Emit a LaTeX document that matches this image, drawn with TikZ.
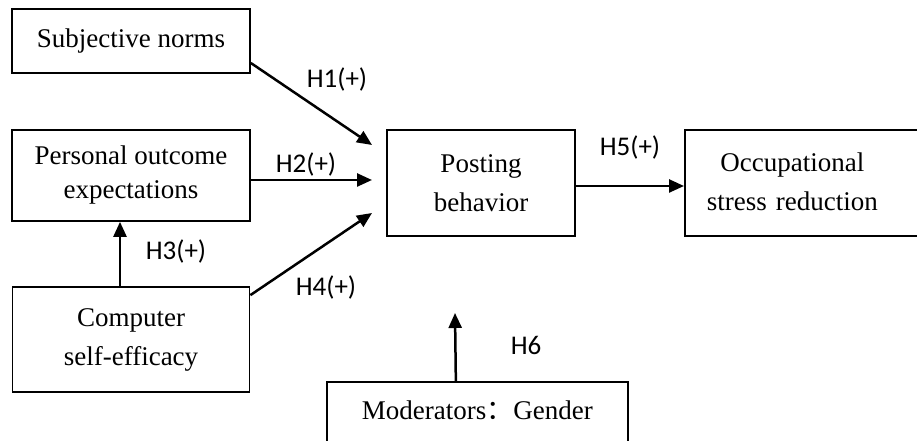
\documentclass[tikz,border=0pt]{standalone}
\usepackage{fontspec}
\setmainfont{Liberation Serif}
\newfontfamily\hfont{Carlito}
\newfontfamily\cjk{Noto Sans CJK SC}
\usetikzlibrary{arrows.meta}

\begin{document}
\begin{tikzpicture}[x=1pt,y=1pt,
  box/.style={draw,line width=1.7pt,align=center,font=\fontsize{27}{39}\selectfont},
  hyp/.style={-{Triangle[length=15pt,width=13pt]},line width=2.5pt},
  hlab/.style={font=\hfont\fontsize{27}{32}\selectfont}]
\useasboundingbox (0,0) rectangle (917,441);

% Boxes
\node[box,minimum width=238pt,minimum height=64pt] (norms) at (131,400) {Subjective norms};
\node[box,minimum width=238pt,minimum height=91pt,font=\fontsize{27}{34}\selectfont] (outcome) at (131,265.5) {Personal outcome\\expectations};
\node[box,minimum width=237pt,minimum height=105pt] (efficacy) at (131,101.5) {Computer\\self-efficacy};
\node[box,minimum width=188pt,minimum height=106pt] (posting) at (481,258) {Posting\\behavior};
\node[box,anchor=west,minimum height=106pt,inner xsep=0pt,text width=290pt,align=left] (stress) at (684,258)
  {\hspace*{22pt}\begin{tabular}{@{}c@{}}Occupational\\stress reduction\end{tabular}};
\node[box,anchor=north west,minimum width=301pt,inner sep=0pt,text height=38pt,text depth=60pt] (gender) at (326,60) {Moderators{\cjk ：}Gender};

% Arrow ends
\coordinate (h1end) at (372,296);
\coordinate (h2end) at (372,261);
\coordinate (h4end) at (372,228);
\coordinate (h6end) at (455,128);

% Hypotheses
\draw[hyp] ([yshift=-22pt]norms.east) -- (h1end);
\draw[hyp] ([yshift=-4.5pt]outcome.east) -- (h2end);
\draw[hyp] ([xshift=-11pt]efficacy.north) -- ([xshift=-11pt]outcome.south);
\draw[hyp] ([yshift=-9pt]efficacy.north east) -- (h4end);
\draw[hyp] ([yshift=-3pt]posting.east) -- ([yshift=-3pt]stress.west);
\draw[hyp] ([xshift=-21.5pt]gender.north) -- (h6end);

% Labels
\node[hlab] (l1) at (337,361) {H1(+)};
\node[hlab] (l2) at (306,276) {H2(+)};
\node[hlab] (l3) at (176,189) {H3(+)};
\node[hlab] (l4) at (326,153) {H4(+)};
\node[hlab] (l5) at (630,293) {H5(+)};
\node[hlab] (l6) at (526,96) {H6};

\end{tikzpicture}
\end{document}
